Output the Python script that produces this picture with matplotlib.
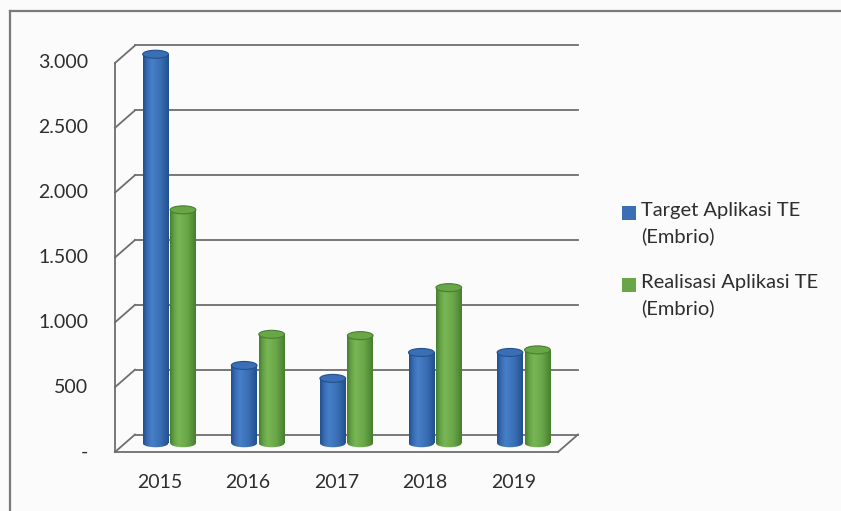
import numpy as np
import matplotlib
matplotlib.use("Agg")
import matplotlib.pyplot as plt
from matplotlib.patches import Ellipse, Rectangle
from matplotlib.transforms import ScaledTranslation
from matplotlib.colors import LinearSegmentedColormap

years = ["2015", "2016", "2017", "2018", "2019"]
target = [3000, 600, 500, 700, 700]
realisasi = [1800, 840, 830, 1200, 720]
series_names = ["Target Aplikasi TE\n(Embrio)", "Realisasi Aplikasi TE\n(Embrio)"]
yticks = [0, 500, 1000, 1500, 2000, 2500, 3000]
ytick_labels = ["-", "500", "1.000", "1.500", "2.000", "2.500", "3.000"]

DPI = 100
W, H = 841, 511
FONT = ["Lato", "DejaVu Sans"]
TXT = "#2e2e2e"
GRID = "#6e6e6e"

fig = plt.figure(figsize=(W / DPI, H / DPI), dpi=DPI)
fig.patch.set_facecolor("#fbfbfb")

# outer chart frame (top and left edges only)
fig.add_artist(plt.Line2D([10 / W, 10 / W], [0, 1 - 11 / H], transform=fig.transFigure,
                          color="#7a7a7a", lw=1.6))
fig.add_artist(plt.Line2D([10 / W, 1], [1 - 11 / H, 1 - 11 / H], transform=fig.transFigure,
                          color="#7a7a7a", lw=1.6))

# front plane of the 3-D plot box (a little headroom above 3000 for the caps)
x0, x1 = 115, 558
y_zero, y_3000 = 452, 63
px_per_unit = (y_zero - y_3000) / 3000
ymax = 3300
y_top = y_zero - ymax * px_per_unit
ax = fig.add_axes([x0 / W, (H - y_zero) / H, (x1 - x0) / W, (y_zero - y_top) / H])
ax.set_xlim(-0.5, 4.5)
ax.set_ylim(0, ymax)
ax.axis("off")
ax.patch.set_alpha(0)

depth = (20, 17.5)  # pixels, front plane -> back wall
back = ax.transData + ScaledTranslation(depth[0] / DPI, depth[1] / DPI, fig.dpi_scale_trans)
mid = ax.transData + ScaledTranslation(depth[0] / 2 / DPI, depth[1] / 2 / DPI, fig.dpi_scale_trans)
inv = ax.transData.inverted()

# back wall gridlines and left wall connectors
for v in yticks:
    ax.plot([-0.5, 4.5], [v, v], color=GRID, lw=1.3, transform=back, clip_on=False)
    b = inv.transform(back.transform((-0.5, v)))
    ax.plot([-0.5, b[0]], [v, b[1]], color=GRID, lw=1.3, clip_on=False)
ax.plot([-0.5, -0.5], [0, 3000], color=GRID, lw=1.3, clip_on=False)
# floor front edge and right slant
ax.plot([-0.5, 4.5], [0, 0], color=GRID, lw=1.3, clip_on=False)
a = inv.transform(back.transform((4.5, 0)))
ax.plot([4.5, a[0]], [0, a[1]], color=GRID, lw=1.3, clip_on=False)

# y tick labels
for v, lab in zip(yticks, ytick_labels):
    ax.text(-0.8, v, lab, ha="right", va="center", fontsize=14, family=FONT, color=TXT)

# x category labels
x = np.arange(len(years))
for xi, lab in zip(x, years):
    ax.text(xi, -235, lab, ha="center", va="center", fontsize=14, family=FONT, color=TXT)

# cylinder bars
cap_h = 8 / px_per_unit
bw = 0.29


def cylinder(xc, val, base_col, dark_col, light_col):
    cmap = LinearSegmentedColormap.from_list("cyl", [dark_col, base_col, light_col, base_col, dark_col])
    left = xc - bw / 2
    body = Rectangle((left, 0), bw, val, transform=mid, facecolor="none", edgecolor="none")
    bottom = Ellipse((xc, 0), bw, cap_h, transform=mid, facecolor="none", edgecolor="none")
    ax.add_patch(body)
    ax.add_patch(bottom)
    grad = np.interp(np.linspace(0, 1, 64), [0, 0.35, 1], [0, 0.5, 1.0])[None, :]
    for clip in (body, bottom):
        im = ax.imshow(grad, cmap=cmap, aspect="auto", extent=(left, left + bw, -cap_h, val),
                       transform=mid, interpolation="bilinear", zorder=3)
        im.set_clip_path(clip)
    top = Ellipse((xc, val), bw, cap_h, transform=mid, facecolor=base_col,
                  edgecolor=dark_col, lw=0.8, zorder=4)
    ax.add_patch(top)


for xi, v in zip(x, target):
    cylinder(xi - 0.155, v, "#3a6fb6", "#22508e", "#477fc6")
for xi, v in zip(x, realisasi):
    cylinder(xi + 0.155, v, "#68a648", "#487f2f", "#78b655")

# legend
lx, ly = 622 / W, 1 - 213 / H
for i, (name, col) in enumerate(zip(series_names, ["#3a6fb6", "#68a648"])):
    yy = ly - i * 72 / H
    fig.add_artist(Rectangle((lx, yy - 7 / H), 14 / W, 14 / H, transform=fig.transFigure,
                             facecolor=col, edgecolor="none"))
    fig.text(lx + 19 / W, yy + 11 / H, name, ha="left", va="top", fontsize=14.5,
             family=FONT, color=TXT, linespacing=1.55)

fig.savefig("out.png", dpi=DPI, facecolor=fig.get_facecolor())
